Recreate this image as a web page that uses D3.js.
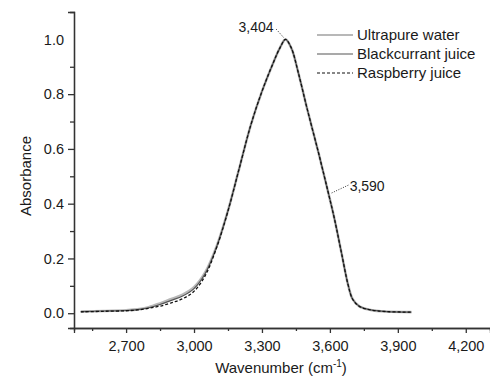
<!DOCTYPE html>
<html>
<head>
<meta charset="utf-8">
<script src="https://cdn.jsdelivr.net/npm/d3@7"></script>
<style>
  body { margin: 0; background: #fff; }
  text { font-family: "Liberation Sans", Arial, sans-serif; fill: #1a1a1a; }
</style>
</head>
<body>
<div id="chart"></div>
<script>
// wavenumber (cm-1) and absorbance
var wavenumbers = [2500, 2600, 2700, 2750, 2800, 2850, 2900, 2950, 3000, 3050, 3100, 3150, 3200, 3250, 3300, 3350, 3380, 3404, 3430, 3460, 3500, 3550, 3590, 3620, 3650, 3680, 3700, 3730, 3780, 3850, 3960];
var water        = [0.006, 0.008, 0.011, 0.014, 0.022, 0.036, 0.052, 0.068, 0.095, 0.150, 0.245, 0.375, 0.530, 0.685, 0.810, 0.915, 0.970, 1.000, 0.968, 0.880, 0.745, 0.585, 0.450, 0.345, 0.225, 0.105, 0.052, 0.025, 0.012, 0.006, 0.004];
var blackcurrant = [0.006, 0.008, 0.010, 0.013, 0.020, 0.032, 0.047, 0.063, 0.090, 0.146, 0.243, 0.375, 0.530, 0.685, 0.810, 0.915, 0.970, 1.000, 0.968, 0.880, 0.745, 0.585, 0.450, 0.345, 0.225, 0.105, 0.052, 0.025, 0.012, 0.006, 0.004];
var raspberry    = [0.005, 0.007, 0.009, 0.012, 0.018, 0.026, 0.038, 0.053, 0.080, 0.138, 0.240, 0.373, 0.530, 0.685, 0.810, 0.915, 0.970, 1.000, 0.968, 0.880, 0.745, 0.585, 0.450, 0.345, 0.225, 0.105, 0.052, 0.025, 0.012, 0.006, 0.004];

var seriesNames = ["Ultrapure water", "Blackcurrant juice", "Raspberry juice"];
var xTicks = [2700, 3000, 3300, 3600, 3900, 4200];
var yTicks = [0, 0.2, 0.4, 0.6, 0.8, 1.0];
var peaks = [3404, 3590];

var width = 490, height = 378;

var x = d3.scaleLinear().domain([2470, 4307]).range([74, 490]);
var y = d3.scaleLinear().domain([-0.054, 1.1]).range([328, 12]);

var svg = d3.select("#chart").append("svg")
    .attr("width", width)
    .attr("height", height);

var styles = [
  {stroke: "#b8b8b8", width: 2.6, dash: null},
  {stroke: "#555", width: 1.2, dash: null},
  {stroke: "#111", width: 1.3, dash: "3,2"}
];
var allSeries = [water, blackcurrant, raspberry];

var line = d3.line()
    .x(function(d) { return x(d[0]); })
    .y(function(d) { return y(d[1]); })
    .curve(d3.curveCatmullRom.alpha(0.5));

allSeries.forEach(function(vals, i) {
  var pts = wavenumbers.map(function(w, j) { return [w, vals[j]]; });
  svg.append("path")
      .datum(pts)
      .attr("fill", "none")
      .attr("stroke", styles[i].stroke)
      .attr("stroke-width", styles[i].width)
      .attr("stroke-dasharray", styles[i].dash)
      .attr("d", line);
});

// axes: majors + minor ticks
var xAxis = d3.axisBottom(x).tickValues(xTicks).tickSize(5).tickPadding(8)
    .tickFormat(d3.format(","));
var xMinor = d3.axisBottom(x).tickValues(xTicks.map(function(t) { return t - 150; }).concat([4350]))
    .tickSize(3).tickFormat("");
var yAxis = d3.axisLeft(y).tickValues(yTicks).tickSize(6).tickPadding(4)
    .tickFormat(d3.format(".1f"));
var yMinor = d3.axisLeft(y).tickValues([0.1, 0.3, 0.5, 0.7, 0.9]).tickSize(4).tickFormat("");

function styleAxis(g) {
  g.select(".domain").attr("stroke", "#333").attr("stroke-width", 1.3);
  g.selectAll(".tick line").attr("stroke", "#333").attr("stroke-width", 1.3);
  g.selectAll(".tick text").style("font-size", "14.5px").attr("fill", "#1a1a1a");
}

svg.append("g").attr("transform", "translate(0,328)").call(xMinor).call(styleAxis);
svg.append("g").attr("transform", "translate(0,328)").call(xAxis).call(styleAxis);
svg.append("g").attr("transform", "translate(74,0)").call(yMinor).call(styleAxis);
var gy = svg.append("g").attr("transform", "translate(74,0)").call(yAxis).call(styleAxis);
gy.selectAll(".tick").filter(function(d) { return d === 1; }).select("line").remove();

// axis titles
svg.append("text")
    .attr("transform", "translate(31,176) rotate(-90)")
    .attr("text-anchor", "middle")
    .style("font-size", "15px")
    .text("Absorbance");

var xt = svg.append("text")
    .attr("x", 281).attr("y", 373)
    .attr("text-anchor", "middle")
    .style("font-size", "15px");
xt.append("tspan").text("Wavenumber (cm");
xt.append("tspan").attr("dy", -6).style("font-size", "10px").text("-1");
xt.append("tspan").attr("dy", 6).text(")");

// legend
var legend = svg.append("g").attr("transform", "translate(317,35)");
seriesNames.forEach(function(name, i) {
  var row = legend.append("g").attr("transform", "translate(0," + (i * 19) + ")");
  row.append("line")
      .attr("x1", 0).attr("x2", 36)
      .attr("stroke", styles[i].stroke)
      .attr("stroke-width", i === 0 ? 2 : 1.2)
      .attr("stroke-dasharray", styles[i].dash);
  row.append("text")
      .attr("x", 40).attr("y", 5)
      .style("font-size", "15px")
      .text(name);
});

// peak annotations with dotted leaders
var fmt = d3.format(",");
var pk = [x(peaks[0]), y(water[wavenumbers.indexOf(peaks[0])])];
svg.append("line")
    .attr("x1", pk[0] - 2).attr("y1", pk[1] - 2)
    .attr("x2", pk[0] - 10).attr("y2", pk[1] - 11)
    .attr("stroke", "#333").attr("stroke-dasharray", "1,1.5");
svg.append("text")
    .attr("x", pk[0] - 12).attr("y", pk[1] - 7)
    .attr("text-anchor", "end")
    .style("font-size", "14px")
    .text(fmt(peaks[0]));

var p2 = [x(peaks[1]), y(water[wavenumbers.indexOf(peaks[1])])];
svg.append("line")
    .attr("x1", p2[0] + 4).attr("y1", p2[1] + 3)
    .attr("x2", p2[0] + 21).attr("y2", p2[1] - 5)
    .attr("stroke", "#333").attr("stroke-dasharray", "1,1.5");
svg.append("text")
    .attr("x", p2[0] + 22).attr("y", p2[1] + 1)
    .style("font-size", "14px")
    .text(fmt(peaks[1]));
</script>
</body>
</html>
